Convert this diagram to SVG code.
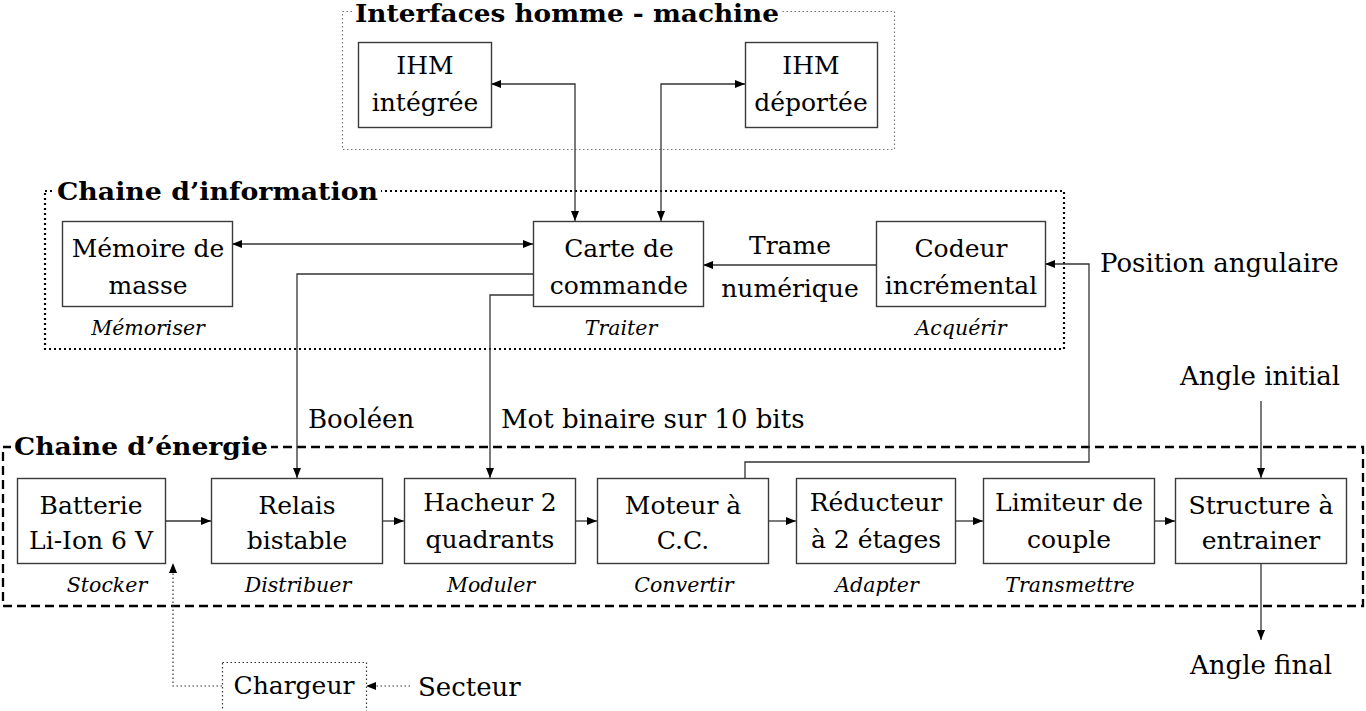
<svg xmlns="http://www.w3.org/2000/svg" width="1366" height="711" viewBox="0 0 1366 711">
<defs>
<style>
text{font-family:"DejaVu Serif","Liberation Serif",serif;fill:#000}
.t{font-size:25px;text-anchor:middle}
.f{font-size:20.5px;font-style:italic;text-anchor:middle}
.h{font-size:25px;font-weight:bold}
.l{font-size:26px}
.box{fill:#fff;stroke:#3a3a3a;stroke-width:1.4}
.c{fill:none;stroke:#333;stroke-width:1.3}
.d{fill:none;stroke:#333;stroke-width:1.2;stroke-dasharray:1.5,2.5}
</style>
<marker id="ah" viewBox="0 0 10 8" refX="10" refY="4" markerWidth="10" markerHeight="8" orient="auto-start-reverse" markerUnits="userSpaceOnUse"><path d="M0,0 L10,4 L0,8 z" fill="#000"/></marker>
</defs>
<rect width="1366" height="711" fill="#fff"/>

<g id="groups">
<rect x="342.5" y="11.5" width="552" height="138" fill="none" stroke="#777" stroke-width="1.2" stroke-dasharray="1.5,2.5"/>
<rect x="352" y="0" width="430" height="26" fill="#fff"/>
<text class="h" x="355" y="22" textLength="424" lengthAdjust="spacingAndGlyphs">Interfaces homme - machine</text>

<rect x="45" y="191" width="1019" height="158" fill="none" stroke="#000" stroke-width="2.2" stroke-dasharray="2,3"/>
<rect x="54" y="176" width="327" height="30" fill="#fff"/>
<text class="h" x="57" y="200" textLength="321" lengthAdjust="spacingAndGlyphs">Chaine d’information</text>

<rect x="3" y="447" width="1360" height="159" fill="none" stroke="#000" stroke-width="2.3" stroke-dasharray="9,5"/>
<rect x="11" y="430" width="260" height="30" fill="#fff"/>
<text class="h" x="14" y="455" textLength="254" lengthAdjust="spacingAndGlyphs">Chaine d’énergie</text>
</g>

<g id="connectors">
<path class="c" d="M491,84 H575 V221" marker-start="url(#ah)" marker-end="url(#ah)"/>
<path class="c" d="M745,84 H661 V221" marker-start="url(#ah)" marker-end="url(#ah)"/>
<path class="c" d="M232,244 H533" marker-start="url(#ah)" marker-end="url(#ah)"/>
<path class="c" d="M876,265 H703" marker-end="url(#ah)"/>
<path class="c" d="M533,274 H297 V478" marker-end="url(#ah)"/>
<path class="c" d="M533,295 H490 V478" marker-end="url(#ah)"/>
<path class="c" d="M745,478 V462 H1089 V264 H1045" marker-end="url(#ah)"/>
<path class="c" d="M165,521 H211" marker-end="url(#ah)"/>
<path class="c" d="M382,521 H404" marker-end="url(#ah)"/>
<path class="c" d="M575,521 H597" marker-end="url(#ah)"/>
<path class="c" d="M768,521 H796" marker-end="url(#ah)"/>
<path class="c" d="M955,521 H983" marker-end="url(#ah)"/>
<path class="c" d="M1154,521 H1175" marker-end="url(#ah)"/>
<path class="c" d="M1261,401 V478" marker-end="url(#ah)"/>
<path class="c" d="M1261,563 V640" marker-end="url(#ah)"/>
<path class="d" d="M410,686 H366" marker-end="url(#ah)"/>
<path class="d" d="M222,686 H173 V563" marker-end="url(#ah)"/>
<text class="t" x="790" y="254">Trame</text>
<text class="t" x="790" y="297">numérique</text>
<text class="l" x="308" y="428">Booléen</text>
<text class="l" x="501" y="428">Mot binaire sur 10 bits</text>
<text class="l" x="1100" y="272">Position angulaire</text>
<text class="l" x="1180" y="385">Angle initial</text>
<text class="l" x="1261" y="674" text-anchor="middle">Angle final</text>
<text class="l" x="418" y="696">Secteur</text>
</g>

<g id="ihm-integree"><rect class="box" x="358.5" y="42.5" width="133" height="85"/><text class="t" x="425" y="74">IHM</text><text class="t" x="425" y="111">intégrée</text></g>
<g id="ihm-deportee"><rect class="box" x="745.5" y="42.5" width="132" height="85"/><text class="t" x="811" y="74">IHM</text><text class="t" x="811" y="111">déportée</text></g>

<g id="memoire"><rect class="box" x="62.5" y="221.5" width="170" height="85"/><text class="t" x="148" y="257">Mémoire de</text><text class="t" x="148" y="294">masse</text><text class="f" x="148" y="335">Mémoriser</text></g>
<g id="carte"><rect class="box" x="533.5" y="221.5" width="170" height="85"/><text class="t" x="619" y="257">Carte de</text><text class="t" x="619" y="294">commande</text><text class="f" x="621" y="335">Traiter</text></g>
<g id="codeur"><rect class="box" x="876.5" y="221.5" width="169" height="85"/><text class="t" x="961" y="257">Codeur</text><text class="t" x="961" y="294">incrémental</text><text class="f" x="961" y="335">Acquérir</text></g>

<g id="batterie"><rect class="box" x="17.5" y="478.5" width="148" height="85"/><text class="t" x="91" y="514">Batterie</text><text class="t" x="91" y="549">Li-Ion 6 V</text><text class="f" x="107" y="592">Stocker</text></g>
<g id="relais"><rect class="box" x="211.5" y="478.5" width="171" height="85"/><text class="t" x="297" y="514">Relais</text><text class="t" x="297" y="549">bistable</text><text class="f" x="298" y="592">Distribuer</text></g>
<g id="hacheur"><rect class="box" x="404.5" y="478.5" width="171" height="85"/><text class="t" x="490" y="511">Hacheur 2</text><text class="t" x="490" y="548">quadrants</text><text class="f" x="491" y="592">Moduler</text></g>
<g id="moteur"><rect class="box" x="597.5" y="478.5" width="171" height="85"/><text class="t" x="683" y="514">Moteur à</text><text class="t" x="683" y="549">C.C.</text><text class="f" x="684" y="592">Convertir</text></g>
<g id="reducteur"><rect class="box" x="796.5" y="478.5" width="159" height="85"/><text class="t" x="876" y="511">Réducteur</text><text class="t" x="876" y="548">à 2 étages</text><text class="f" x="877" y="592">Adapter</text></g>
<g id="limiteur"><rect class="box" x="983.5" y="478.5" width="171" height="85"/><text class="t" x="1069" y="511">Limiteur de</text><text class="t" x="1069" y="548">couple</text><text class="f" x="1070" y="592">Transmettre</text></g>
<g id="structure"><rect class="box" x="1175.5" y="478.5" width="171" height="85"/><text class="t" x="1261" y="514">Structure à</text><text class="t" x="1261" y="549">entrainer</text></g>

<g id="chargeur"><rect x="222.5" y="662.5" width="144" height="49" fill="#fff" stroke="#333" stroke-width="1.2" stroke-dasharray="1.5,2.5"/><text class="t" x="294" y="694">Chargeur</text></g>
</svg>
